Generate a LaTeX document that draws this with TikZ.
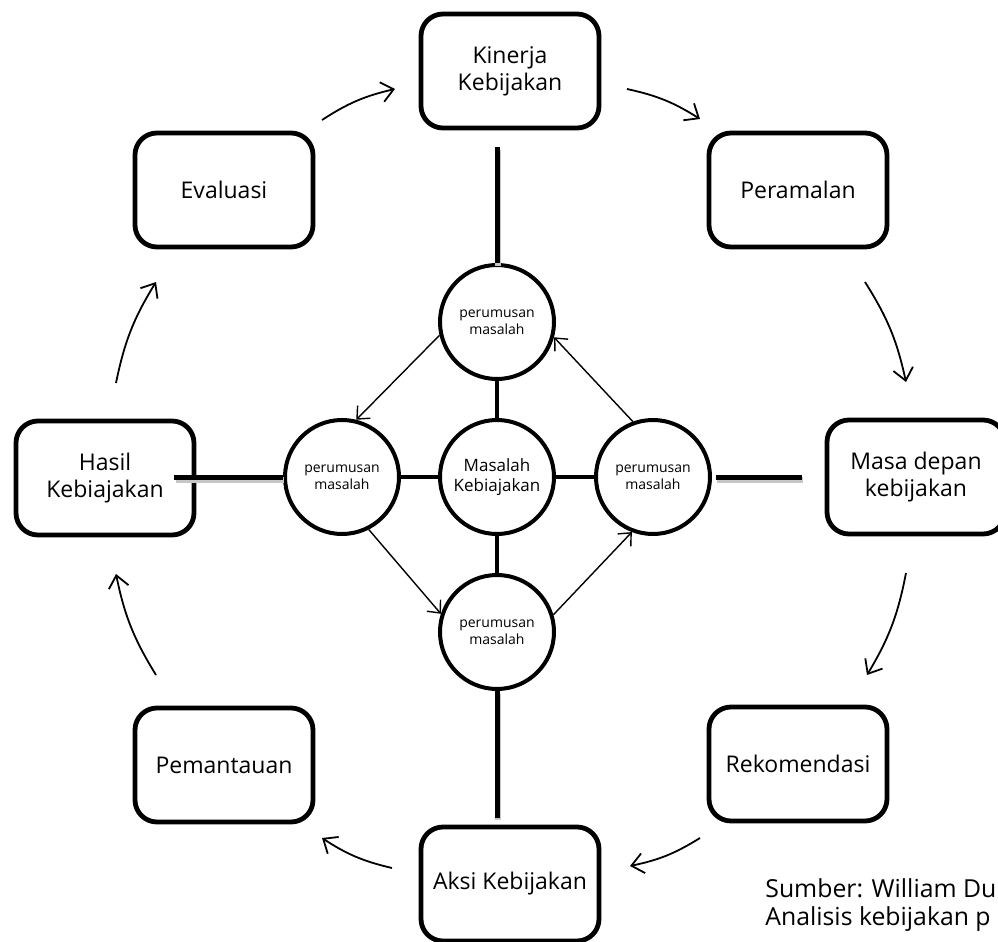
\documentclass[tikz,border=0pt]{standalone}
\usepackage{fontspec}
\setmainfont{Open Sans}
\usetikzlibrary{arrows.meta}

\begin{document}
\begin{tikzpicture}[x=0.5pt,y=0.5pt,
    box/.style={draw,line width=2.4pt,rounded corners=11pt,minimum width=89pt,
      minimum height=57pt,align=center,inner sep=1pt,
      font=\fontsize{11.5}{13.5}\selectfont},
    disc/.style={draw,circle,line width=2pt,minimum size=57pt,inner sep=0pt,
      align=center,font=\fontsize{7}{8.5}\selectfont},
    stem/.style={line width=2.5pt,
      preaction={draw=black!22,line width=3pt,
        transform canvas={shift={(0.6pt,-1.3pt)}}}},
    link/.style={line width=2pt},
    cyc/.style={line width=0.9pt,-{Straight Barb[length=6pt,width=10pt]}},
    flow/.style={line width=0.7pt,-{Straight Barb[length=5pt,width=9pt]}}]
  \useasboundingbox (0,0) rectangle (998,-942);
  \fill[white] (0,0) rectangle (998,-942);
  \def \Boxes{
    kin/510/-71/{Kinerja\\Kebijakan},
    eva/224/-190/{Evaluasi},
    per/798/-190/{Peramalan},
    hasil/105/-478/{Hasil\\Kebiajakan},
    masa/916/-477/{Masa depan\\kebijakan},
    pem/224/-765/{Pemantauan},
    rek/798/-764/{Rekomendasi},
    aksi/510/-884/{Aksi Kebijakan}}
  \def \Discs{
    ptop/497/-322,
    pleft/342/-477,
    pright/653/-477,
    pbot/497/-632}
  \foreach \id / \x / \y / \txt in \Boxes{
    \node[box] (\id) at (\x, \y) {\txt};
  }
  \foreach \id / \x / \y in \Discs{
    \node[disc] (\id) at (\x, \y) {perumusan\\masalah};
  }
  \node[disc,font=\fontsize{8.5}{10}\selectfont] (pcen) at (497,-477) {Masalah\\Kebiajakan};
  % spokes
  \foreach \x in {ptop,pleft,pright,pbot}{
    \draw[link] (pcen) -- (\x);
  }
  \draw[stem,shorten <=8.5pt] (ptop |- kin.south) -- (ptop);
  \draw[stem,shorten <=-11pt] (hasil.east |- pleft) -- (pleft);
  \draw[stem,shorten <=2pt,shorten >=11.5pt] (pright) -- (pright -| masa.west);
  \draw[stem,shorten >=3.5pt] (pbot) -- (pbot |- aksi.north);
  % inner cycle
  \foreach \a / \b in {ptop.193/pleft.76, pleft.297/pbot.162,
                       pbot.17/pright.249, pright.110/ptop.345}{
    \draw[flow] (\a) -- (\b);
  }
  % outer cycle
  \foreach \n / \x / \y in {
      r1/322/-120, s1/395/-89,
      r2/627/-89, s2/700/-119,
      r3/865/-282, s3/906/-382,
      r4/906/-573, s4/867/-675,
      r5/700/-838, s5/630/-866,
      r6/392/-868, s6/322/-838,
      r7/156/-675, s7/116/-574,
      r8/116/-383, s8/156/-282}{
    \coordinate (\n) at (\x, \y);
  }
  \foreach \i in {1,...,8}{
    \draw[cyc] (r\i) to[bend left=10] (s\i);
  }
  \node[anchor=west,align=left,inner sep=0pt,font=\fontsize{12.4}{14.2}\selectfont]
    (src) at (765,-905) {Sumber: William Du\\Analisis kebijakan p};
\end{tikzpicture}
\end{document}
